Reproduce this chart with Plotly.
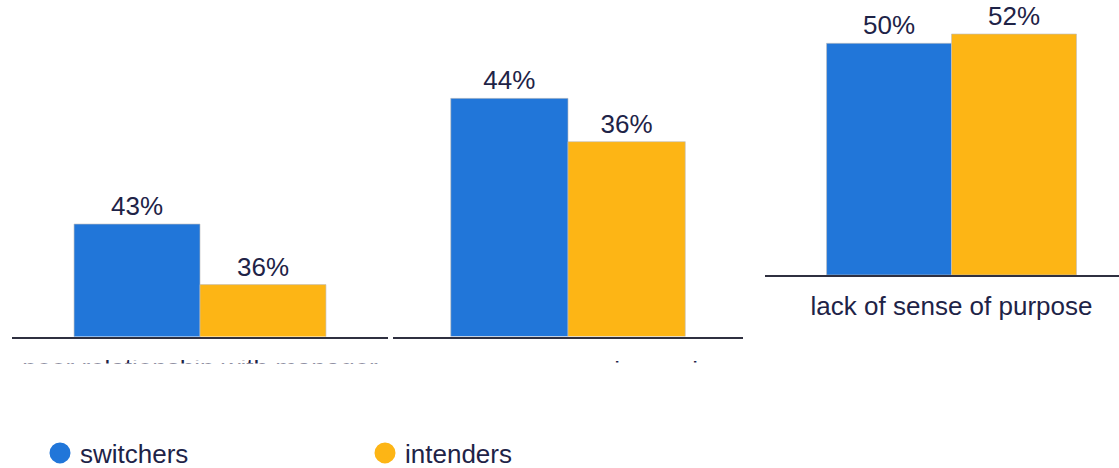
import plotly.graph_objects as go

categories = ["poor relationship with manager", "no career progression options", "lack of sense of purpose"]
series_names = ["switchers", "intenders"]
switchers = [43, 44, 50]
intenders = [36, 36, 52]

W, H = 1119, 468
BLUE = "#2176D9"
ORANGE = "#FDB515"
TXT = "#1e2347"
FONT = "Liberation Sans"

def py(p):
    return 1 - p / H

def px(p):
    return p / W

fig = go.Figure()
colors = [BLUE, ORANGE]
for i, cat in enumerate(categories):
    axn = "" if i == 0 else str(i + 1)
    for s, (name, vals) in enumerate(zip(series_names, [switchers, intenders])):
        fig.add_trace(go.Bar(
            x=[cat], y=[vals[i]], name=name, offsetgroup=str(s),
            marker=dict(color=colors[s], line=dict(color="rgba(190,190,190,0.8)", width=0.8)),
            texttemplate="%{y}%", textposition="outside", constraintext="none",
            textfont=dict(size=26, color=TXT, family=FONT),
            showlegend=False, xaxis="x" + axn, yaxis="y" + axn,
            hoverinfo="skip",
        ))

# legend entries (circle markers)
for s, name in enumerate(series_names):
    fig.add_trace(go.Scatter(
        x=[None], y=[None], mode="markers", name=name,
        marker=dict(symbol="circle", size=16, color=colors[s], line=dict(color=colors[s], width=5)),
        xaxis="x", yaxis="y",
    ))

xdoms = [[px(12), px(388)], [px(393), px(743)], [px(765), 1.0]]
xranges = [[-0.5, 0.5], [-0.5, 0.5], [-0.5, 0.449]]
ydoms = [[py(336.5), 1.0], [py(336.5), 1.0], [py(275), 1.0]]
yranges = [[30, 30 + 336.5 / 8.65], [0, 336.5 / 5.412], [0, 275 / 4.634]]
standoffs = [8, 11, 7]

layout = dict(
    width=W, height=H,
    margin=dict(l=0, r=0, t=0, b=0, autoexpand=False),
    plot_bgcolor="white", paper_bgcolor="white",
    bargap=0.33, bargroupgap=0, barmode="group",
    font=dict(family=FONT, color=TXT, size=26),
    showlegend=True,
    legend=dict(orientation="h", x=px(40), xanchor="left", y=py(453), yanchor="middle",
                font=dict(size=26, color=TXT, family=FONT),
                entrywidth=280, entrywidthmode="pixels", itemclick=False),
)
for i in range(3):
    axn = "" if i == 0 else str(i + 1)
    layout["xaxis" + axn] = dict(
        domain=xdoms[i], range=xranges[i], type="category",
        showline=True, linecolor="#2f3040", linewidth=1.5,
        showgrid=False, zeroline=False, ticks="",
        tickfont=dict(size=26, color=TXT, family=FONT),
        ticklabelstandoff=standoffs[i], automargin=False,
        anchor="y" + axn, fixedrange=True,
    )
    layout["yaxis" + axn] = dict(
        domain=ydoms[i], range=yranges[i], visible=False,
        showgrid=False, zeroline=False, anchor="x" + axn, fixedrange=True,
    )
fig.update_layout(**layout)

# the first two category labels are clipped in the source image: mask all but a thin strip
masks = [
    (0, 391, 339, 360), (0, 391, 363.5, 425),
    (391, 762, 339, 357), (391, 762, 362.5, 425),
]
for x0, x1, y0, y1 in masks:
    fig.add_shape(type="rect", xref="paper", yref="paper",
                  x0=px(x0), x1=px(x1), y0=py(y1), y1=py(y0),
                  fillcolor="white", line=dict(width=0), layer="above")

fig.write_html("out.html")
